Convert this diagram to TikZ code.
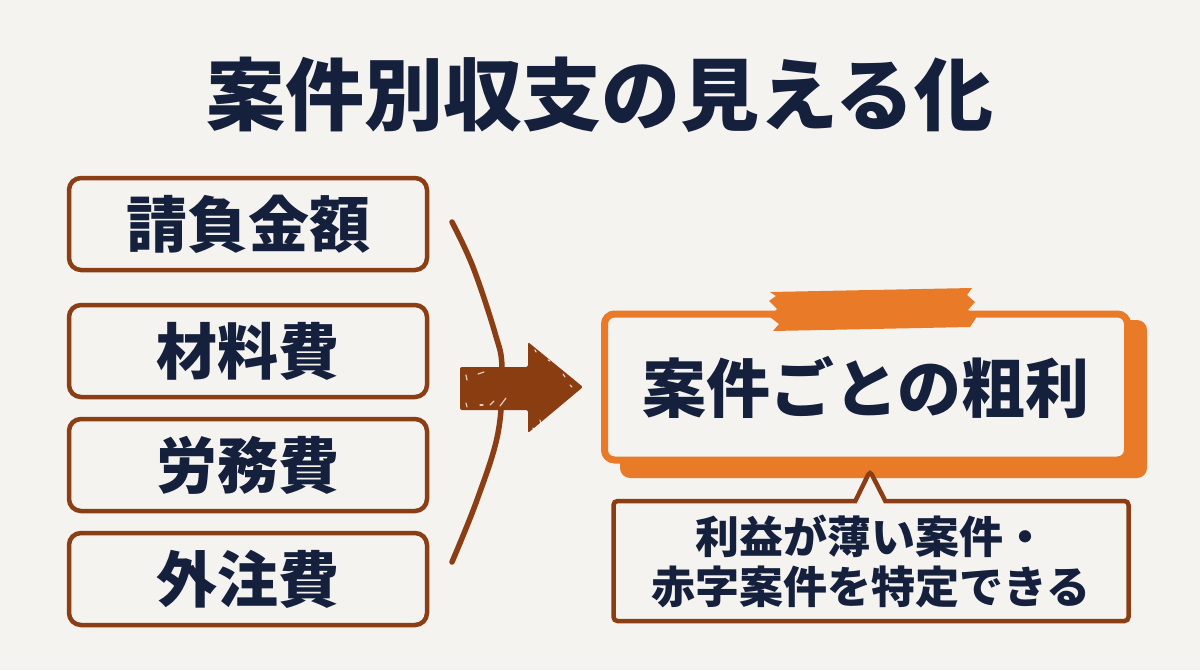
\documentclass[tikz,border=0pt]{standalone}
\usepackage{fontspec}
\setmainfont{Noto Sans CJK JP}
\usetikzlibrary{shapes.callouts}
\definecolor{bg}{HTML}{F4F3F0}
\definecolor{ink}{HTML}{15203C}
\definecolor{brn}{HTML}{8B3E13}
\definecolor{arw}{HTML}{8A3D10}
\definecolor{org}{HTML}{E87A28}
\tikzset{
  costbox/.style={draw=brn, line width=4.5pt, rounded corners=12pt, fill=bg,
    minimum width=358pt, minimum height=92pt, inner sep=0pt,
    font=\bfseries\fontsize{61}{61}\selectfont, text=ink},
  resultbox/.style={draw=org, line width=7pt, rounded corners=10pt, fill=bg,
    minimum width=523pt, minimum height=146pt, inner sep=0pt,
    font=\bfseries\fontsize{64}{64}\selectfont, text=ink},
  notebox/.style={rectangle callout, draw=brn, line width=4.5pt, rounded corners=4pt, fill=bg,
    minimum width=515pt, minimum height=120pt, inner sep=0pt, align=center,
    callout pointer width=30pt,
    font=\bfseries\fontsize{44}{50}\selectfont, text=ink},
  titletext/.style={font=\bfseries\fontsize{79}{79}\selectfont, text=ink, inner sep=0pt},
}
\begin{document}
\begin{tikzpicture}[x=1pt,y=-1pt]
\useasboundingbox (0,0) rectangle (1200,670);
\fill[bg] (0,0) rectangle (1200,670);

% title
\node[titletext] (title) at (600,95) {案件別収支の見える化};

% cost boxes
\node[costbox] (b1) at (248,224) {請負金額};
\node[costbox] (b2) at (248,351) {材料費};
\node[costbox] (b3) at (248,465) {労務費};
\node[costbox] (b4) at (248,579) {外注費};

% bracket
\draw[brn, line width=5.5pt, line cap=round] plot[smooth, tension=0.6] coordinates
  {(452,222) (473,267) (495,333) (502,368) (498,433) (477,500) (452,562)};

% arrow
\fill[arw, rounded corners=2pt] (460,367) -- (528,367) -- (528,342) -- (583,387)
  -- (528,433) -- (528,410) -- (460,410) -- cycle;
\begin{scope}[white, opacity=0.75, line width=1.2pt, line cap=round]
  \draw (466,375) -- (467,380);
  \draw (478,374) -- (484,372);
  \draw (466,403) -- (467,407);
  \draw (480,405) -- (483,405);
  \draw (490,405) -- (494,401);
  \draw (500,406) -- (506,398);
  \draw (535,350) -- (536,352);
  \draw (548,360) -- (550,361);
  \draw (563,374) -- (565,377);
  \draw (570,385) -- (572,387);
  \draw (540,420) -- (541,424);
  \draw (533,428) -- (534,430);
\end{scope}

% result box with shadow and tape
\fill[org, rounded corners=10pt] (620,320) rectangle (1147,478);
\node[resultbox] (gp) at (866,387) {案件ごとの粗利};
\fill[org] (770,292) -- (972,288) -- (967,295) -- (975,302) -- (968,310) -- (976,318)
  -- (970,327) -- (773,331) -- (779,324) -- (770,317) -- (777,309) -- (769,301)
  -- (776,296) -- cycle;

% callout note
\coordinate (tip) at (870,471);
\node[notebox, callout absolute pointer={(tip)}] (note) at (871,561)
  {利益が薄い案件・\\赤字案件を特定できる};
\end{tikzpicture}
\end{document}
